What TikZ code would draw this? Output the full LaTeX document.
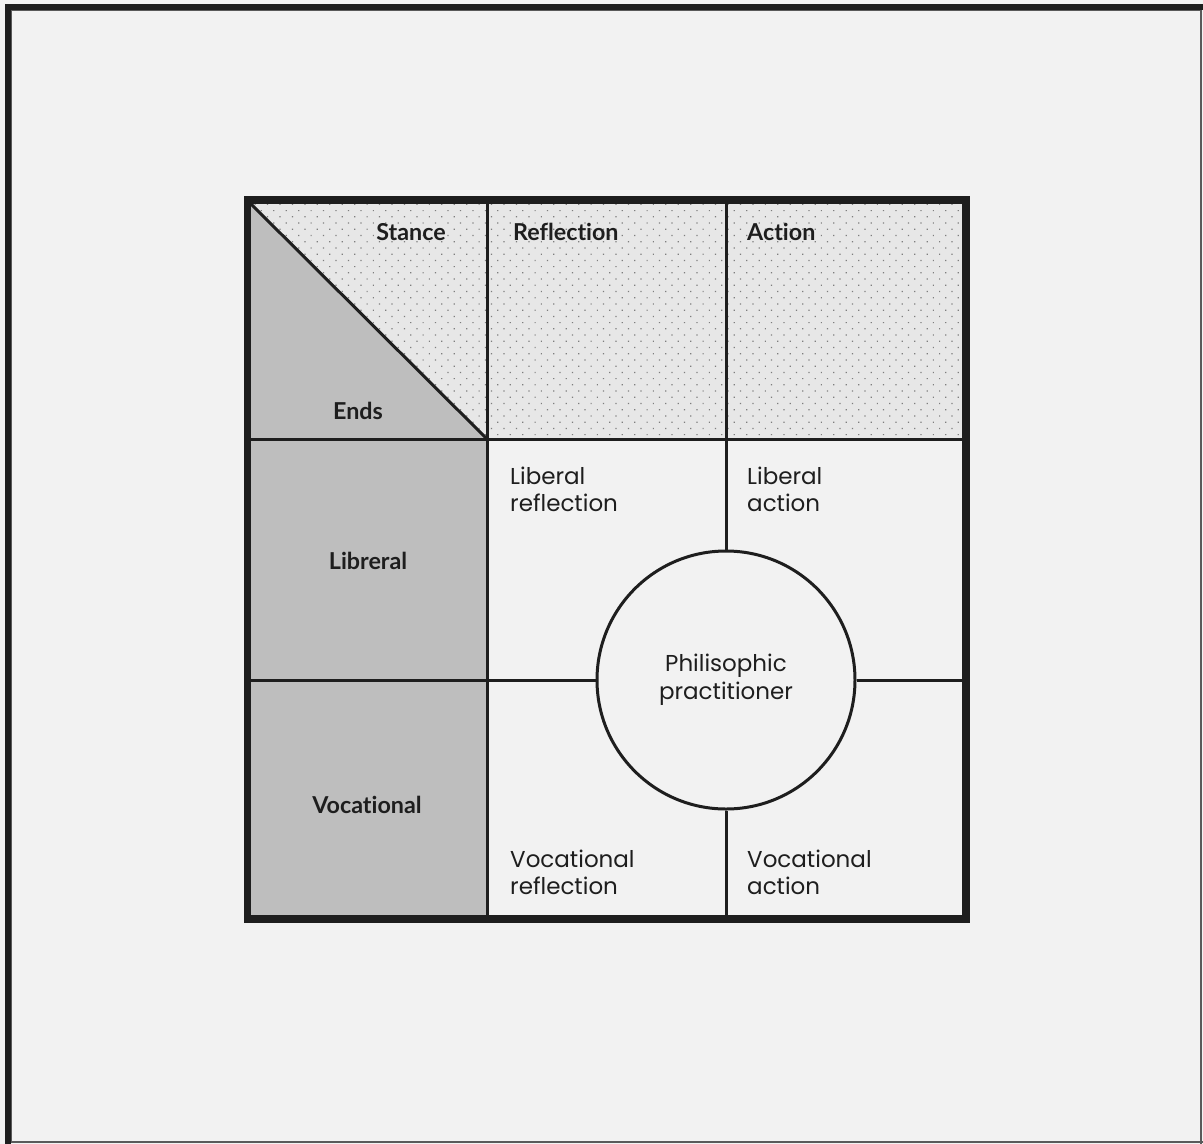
\documentclass[tikz,border=0pt]{standalone}
\usepackage{fontspec}
\usetikzlibrary{patterns.meta}
\newfontfamily\bodyfont{Poppins}
\newfontfamily\headfont{Lato}[Ligatures=CommonOff]
\definecolor{bg}{HTML}{F2F2F2}
\definecolor{ink}{HTML}{1E1E1E}
\definecolor{endsgray}{HTML}{BEBEBE}
\definecolor{stipple}{HTML}{E7E7E7}
\definecolor{dotink}{HTML}{7E7E7E}
\definecolor{rim}{HTML}{5A5A5A}
\begin{document}
\begin{tikzpicture}[x=1pt,y=-1pt,
  gridline/.style={draw=ink, line width=3pt},
  head/.style={font=\headfont\bfseries\fontsize{23.3}{27}\selectfont, text=ink, inner sep=0pt},
  body/.style={font=\bodyfont\fontsize{23}{26.5}\selectfont, text=ink, inner sep=0pt, align=left},
  stippled/.style={fill=stipple, postaction={pattern={Dots[radius=0.85pt,distance=8.8pt,angle=45]}, pattern color=dotink}},
]
% page background and frame
\fill[bg] (0,0) rectangle (1203,1144);
\useasboundingbox (0,0) rectangle (1203,1144);
\fill[ink] (5,4) rectangle (1203,10);
\fill[ink] (5,4) rectangle (11,1144);
\draw[rim, line width=1pt] (11.5,1141) -- (11.5,10.5) -- (1199.5,10.5);
\fill[rim] (1199.5,10) rectangle (1201.7,1144);
\fill[rim] (11,1141.3) rectangle (1203,1143.3);

% grid geometry
\coordinate (tl) at (247.5,200);
\coordinate (tr) at (966,200);
\coordinate (bl) at (247.5,919);
\coordinate (br) at (966,919);
\coordinate (c1t) at (487,200);
\coordinate (c1b) at (487,919);
\coordinate (c2t) at (726,200);
\coordinate (c2m) at (726,439);
\coordinate (c2b) at (726,919);
\coordinate (r1l) at (247.5,439);
\coordinate (r1r) at (966,439);
\coordinate (r2l) at (247.5,680);
\coordinate (r2m) at (487,680);
\coordinate (r2r) at (966,680);
\coordinate (corner) at (487,439);

% fills
\fill[endsgray] (r1l) rectangle (c1b);
\fill[endsgray] (tl) -- (corner) -- (r1l) -- cycle;
\path[stippled] (tl) -- (c1t) -- (corner) -- cycle;
\path[stippled] (c1t) rectangle (r1r);

% inner dividers
\draw[gridline] (c1t) -- (c1b);
\draw[gridline] (r1l) -- (r1r);
\draw[gridline] (r2l) -- (r2m);
\draw[gridline] (c2t) -- (c2m);
\draw[gridline] (251,204) -- (corner);

% central circle and its spokes
\node[circle, draw=ink, line width=3pt, fill=bg, minimum size=258pt, inner sep=0pt,
      font=\bodyfont\fontsize{23}{28}\selectfont, text=ink, align=center] (pp) at (726,680)
      {Philisophic\\practitioner};
\draw[gridline] (pp.north) -- (c2m);
\draw[gridline] (pp.south) -- (c2b);
\draw[gridline] (pp.west) -- (r2m);
\draw[gridline] (pp.east) -- (r2r);

% outer border
\draw[draw=ink, line width=7.5pt] (tl) rectangle (br);

% headings
\node[head, anchor=base] (stance) at (411,240) {Stance};
\node[head, anchor=base west] (refl) at (513,240) {Reflection};
\node[head, anchor=base west] (act) at (747,240) {Action};
\node[head, anchor=base] (ends) at (358,419) {Ends};
\node[head, anchor=base] (lib) at (368,569) {Libreral};
\node[head, anchor=base] (voc) at (367,813) {Vocational};

% quadrant labels (anchored on the baseline of their last line)
\node[body, anchor=base west] (lr) at (510,511) {Liberal\\reflection};
\node[body, anchor=base west] (la) at (747,511) {Liberal\\action};
\node[body, anchor=base west] (vr) at (510,894) {Vocational\\reflection};
\node[body, anchor=base west] (va) at (747,894) {Vocational\\action};
\end{tikzpicture}
\end{document}
